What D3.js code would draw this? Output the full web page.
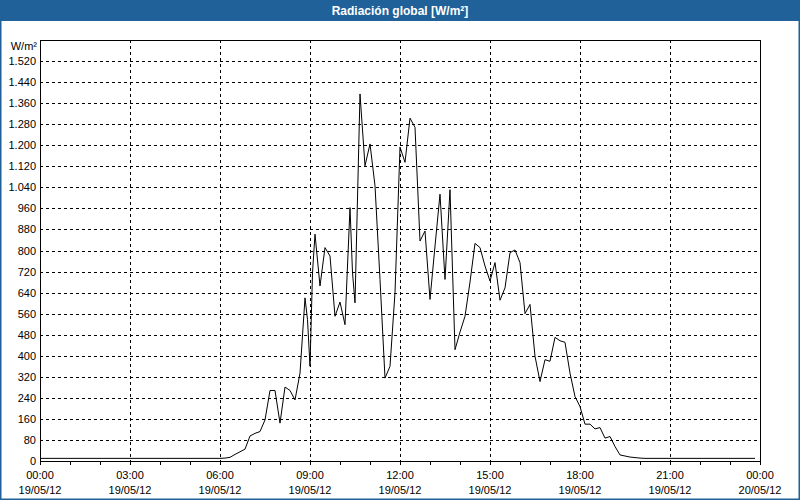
<!DOCTYPE html>
<html>
<head>
<meta charset="utf-8">
<script src="https://cdn.jsdelivr.net/npm/d3@7"></script>
<style>
  html, body { margin: 0; padding: 0; background: #ffffff; }
  svg { display: block; }
  text { font-family: "Liberation Sans", Arial, sans-serif; }
</style>
</head>
<body>
<script>
// ---- data ----
const title = "Radiación global [W/m²]";
const unitLabel = "W/m²";

const times = [
  "00:00","00:10","00:20","00:30","00:40","00:50",
  "01:00","01:10","01:20","01:30","01:40","01:50",
  "02:00","02:10","02:20","02:30","02:40","02:50",
  "03:00","03:10","03:20","03:30","03:40","03:50",
  "04:00","04:10","04:20","04:30","04:40","04:50",
  "05:00","05:10","05:20","05:30","05:40","05:50",
  "06:00","06:10","06:20","06:30","06:40","06:50",
  "07:00","07:10","07:20","07:30","07:40","07:50",
  "08:00","08:10","08:20","08:30","08:40","08:50","08:55",
  "09:00","09:05","09:10","09:20","09:30","09:40","09:50",
  "10:00","10:10","10:20","10:25","10:30","10:40","10:50",
  "11:00","11:10","11:20","11:30","11:40","11:50",
  "12:00","12:10","12:20","12:30","12:40","12:50",
  "13:00","13:10","13:20","13:30","13:40","13:50",
  "14:00","14:10","14:20","14:30","14:40","14:50",
  "15:00","15:10","15:20","15:30","15:40","15:50",
  "16:00","16:10","16:20","16:30","16:40","16:50",
  "17:00","17:10","17:20","17:30","17:40","17:50",
  "18:00","18:10","18:20","18:30","18:40","18:50",
  "19:00","19:10","19:20","19:30","19:40","19:50",
  "20:00","20:10","20:20","20:30","20:40","20:50",
  "21:00","21:10","21:20","21:30","21:40","21:50",
  "22:00","22:10","22:20","22:30","22:40","22:50",
  "23:00","23:10","23:20","23:30","23:40","23:50"
];
const radiation = [
  10,10,10,10,10,10,
  10,10,10,10,10,10,
  10,10,10,10,10,10,
  10,10,10,10,10,10,
  10,10,10,10,10,10,
  10,10,10,10,10,10,
  10,11,14,25,35,45,
  95,105,112,156,268,268,
  144,281,268,232,334,620,537,
  360,716,862,665,811,779,550,
  604,518,963,716,601,1395,1122,
  1205,1046,690,315,360,640,
  1193,1135,1303,1268,836,874,
  614,817,1014,690,1031,423,
  490,550,680,827,811,741,
  684,754,611,658,792,802,
  754,560,595,398,302,385,
  379,470,457,451,334,245,
  207,140,140,122,127,87,
  93,55,23,19,15,13,
  11,10,10,10,10,10,
  10,10,10,10,10,10,
  10,10,10,10,10,10,
  10,10,10,10,10,10
];

const yTicks = [0,80,160,240,320,400,480,560,640,720,800,880,960,1040,1120,1200,1280,1360,1440,1520];
const yTickLabels = ["0","80","160","240","320","400","480","560","640","720","800","880","960","1.040","1.120","1.200","1.280","1.360","1.440","1.520"];
const xTickTimes = ["2012-05-19T00:00","2012-05-19T03:00","2012-05-19T06:00","2012-05-19T09:00","2012-05-19T12:00","2012-05-19T15:00","2012-05-19T18:00","2012-05-19T21:00","2012-05-20T00:00"];
const xTickHours = ["00:00","03:00","06:00","09:00","12:00","15:00","18:00","21:00","00:00"];
const xTickDates = ["19/05/12","19/05/12","19/05/12","19/05/12","19/05/12","19/05/12","19/05/12","19/05/12","20/05/12"];

// ---- layout ----
const W = 800, H = 500;
const m = { left: 40, right: 760, top: 40, bottom: 461 };

const parseT = d3.timeParse("%Y-%m-%dT%H:%M");
const data = times.map((t, i) => ({ t: parseT("2012-05-19T" + t), v: radiation[i] }));

const x = d3.scaleTime()
  .domain([parseT("2012-05-19T00:00"), parseT("2012-05-20T00:00")])
  .range([m.left, m.right]);
const y = d3.scaleLinear().domain([0, 1600]).range([m.bottom, m.top]);

const svg = d3.select("body").append("svg").attr("width", W).attr("height", H);

svg.append("rect").attr("x", 0).attr("y", 0).attr("width", W).attr("height", H).attr("fill", "#ffffff");

// title bar
svg.append("rect").attr("x", 0).attr("y", 0).attr("width", W).attr("height", 21).attr("fill", "#1f6198");
svg.append("text").attr("x", W / 2).attr("y", 15).attr("text-anchor", "middle")
  .attr("fill", "#ffffff").attr("font-weight", "bold").attr("font-size", 12).text(title);

// outer border
svg.append("rect").attr("x", 0.5).attr("y", 0.5).attr("width", W - 1).attr("height", H - 1)
  .attr("fill", "none").attr("stroke", "#1f6198").attr("stroke-width", 2);

// grid
const g = svg.append("g");
g.selectAll("line.hg").data(yTicks.filter(d => d > 0)).join("line")
  .attr("x1", m.left).attr("x2", m.right)
  .attr("y1", d => Math.round(y(d)) + 0.5).attr("y2", d => Math.round(y(d)) + 0.5)
  .attr("stroke", "#000").attr("stroke-width", 1).attr("stroke-dasharray", "3,3")
  .attr("shape-rendering", "crispEdges");
const gridTimes = xTickTimes.slice(1, -1).map(parseT);
g.selectAll("line.vg").data(gridTimes).join("line")
  .attr("x1", d => Math.round(x(d)) + 0.5).attr("x2", d => Math.round(x(d)) + 0.5)
  .attr("y1", m.top).attr("y2", m.bottom)
  .attr("stroke", "#000").attr("stroke-width", 1).attr("stroke-dasharray", "3,3")
  .attr("shape-rendering", "crispEdges");

// minor hour ticks under x axis
const xAxis = d3.axisBottom(x).ticks(d3.timeHour.every(1)).tickSize(3).tickFormat("");
const xa = svg.append("g").attr("transform", `translate(0,${m.bottom + 0.5})`).call(xAxis);
xa.select(".domain").remove();
xa.selectAll("line").attr("stroke", "#000").attr("shape-rendering", "crispEdges");

// frame
svg.append("rect").attr("x", m.left + 0.5).attr("y", m.top + 0.5)
  .attr("width", m.right - m.left).attr("height", m.bottom - m.top)
  .attr("fill", "none").attr("stroke", "#000").attr("stroke-width", 1)
  .attr("shape-rendering", "crispEdges");

// y labels
svg.selectAll("text.yl").data(yTicks).join("text")
  .attr("x", 36).attr("y", d => y(d) + 4)
  .attr("text-anchor", "end").attr("font-size", 11).attr("fill", "#000")
  .text((d, i) => yTickLabels[i]);
svg.append("text").attr("x", 37).attr("y", 50).attr("text-anchor", "end")
  .attr("font-size", 11).attr("fill", "#000").text(unitLabel);

// x labels
const xt = xTickTimes.map(parseT);
svg.selectAll("text.xh").data(xt).join("text")
  .attr("x", d => x(d)).attr("y", 479).attr("text-anchor", "middle")
  .attr("font-size", 11).attr("fill", "#000").text((d, i) => xTickHours[i]);
svg.selectAll("text.xd").data(xt).join("text")
  .attr("x", d => x(d)).attr("y", 494).attr("text-anchor", "middle")
  .attr("font-size", 11).attr("fill", "#000").text((d, i) => xTickDates[i]);

// series line
const line = d3.line().x(d => x(d.t)).y(d => y(d.v));
svg.append("path").datum(data).attr("d", line)
  .attr("fill", "none").attr("stroke", "#000").attr("stroke-width", 1);
</script>
</body>
</html>
